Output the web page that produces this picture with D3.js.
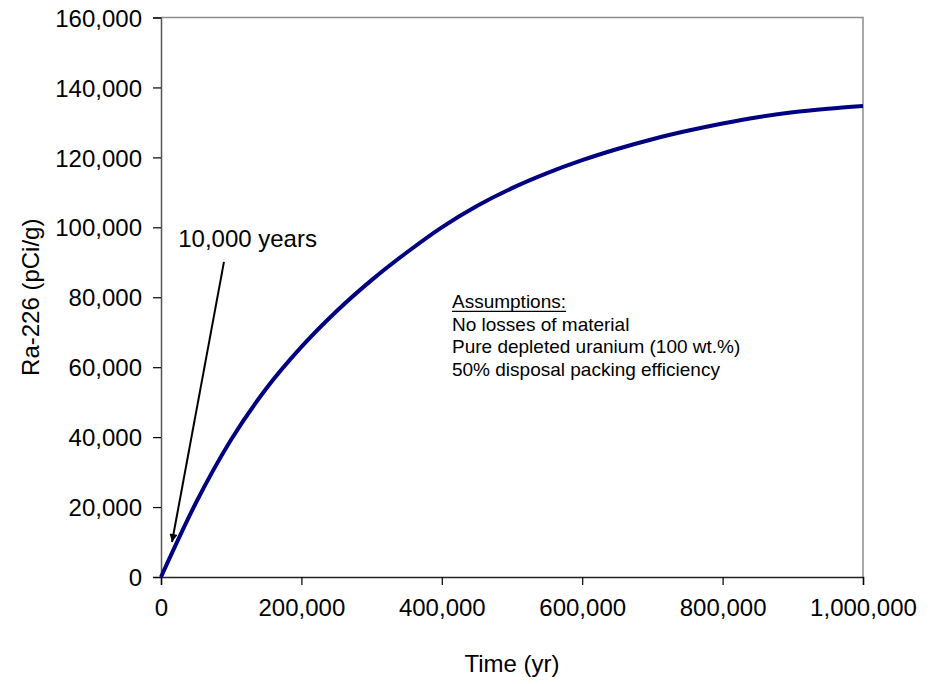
<!DOCTYPE html>
<html>
<head>
<meta charset="utf-8">
<script src="https://cdn.jsdelivr.net/npm/d3@7"></script>
<style>
  body { margin: 0; background: #fff; }
  svg text { font-family: "Liberation Sans", Arial, sans-serif; fill: #000; }
</style>
</head>
<body>
<svg id="chart" width="938" height="684"></svg>
<script>
// time in years, Ra-226 in pCi/g
const years = [0, 50000, 100000, 150000, 200000, 250000, 300000, 350000, 400000, 450000,
  500000, 550000, 600000, 650000, 700000, 750000, 800000, 850000, 900000, 950000, 1000000];
const ra226 = [0, 21300, 39300, 53900, 65800, 76000, 84900, 92800, 100000, 106100,
  111200, 115500, 119200, 122400, 125200, 127600, 129700, 131500, 132900, 133900, 134700];
const xTicks = [0, 200000, 400000, 600000, 800000, 1000000];
const yTicks = [0, 20000, 40000, 60000, 80000, 100000, 120000, 140000, 160000];
const assumptions = ["Assumptions:", "No losses of material",
  "Pure depleted uranium (100 wt.%)", "50% disposal packing efficiency"];

const margin = {top: 17.5, right: 75, bottom: 107, left: 161};
const width = 938 - margin.left - margin.right;
const height = 684 - margin.top - margin.bottom;

const svg = d3.select("#chart");
const g = svg.append("g").attr("transform", `translate(${margin.left},${margin.top})`);

const x = d3.scaleLinear().domain([0, 1000000]).range([0, width]);
const y = d3.scaleLinear().domain([0, 160000]).range([height, 0]);
const fmt = d3.format(",");

// frame: top + right in gray
g.append("path")
  .attr("d", `M0,0H${width}V${height}`)
  .attr("fill", "none").attr("stroke", "#8c8c8c").attr("stroke-width", 1.5);

const yAxis = g.append("g")
  .call(d3.axisLeft(y).tickValues(yTicks).tickFormat(fmt).tickSizeOuter(0).tickSize(8).tickPadding(11));
yAxis.select(".domain").attr("stroke", "#555").attr("stroke-width", 1.5);
yAxis.selectAll("text").attr("font-size", 24).attr("dy", "0.36em");

const xAxis = g.append("g").attr("transform", `translate(0,${height})`)
  .call(d3.axisBottom(x).tickValues(xTicks).tickFormat(fmt).tickSizeOuter(0).tickSize(8).tickPadding(14));
xAxis.select(".domain").attr("stroke", "#222").attr("stroke-width", 1.5);
xAxis.selectAll("text").attr("font-size", 24);
svg.selectAll(".tick line").attr("stroke", "#000").attr("stroke-width", 1.2);
svg.selectAll(".domain").attr("fill", "none");
svg.selectAll(".tick text").attr("font-family", "Liberation Sans, Arial, sans-serif");

// curve
const line = d3.line()
  .x((d, i) => x(years[i]))
  .y(d => y(d))
  .curve(d3.curveMonotoneX);
g.append("path")
  .datum(ra226)
  .attr("d", line)
  .attr("fill", "none")
  .attr("stroke", "#000080")
  .attr("stroke-width", 4);

// axis titles
svg.append("text")
  .attr("x", margin.left + width / 2).attr("y", 672)
  .attr("text-anchor", "middle").attr("font-size", 24)
  .text("Time (yr)");
svg.append("text")
  .attr("transform", `translate(39,${margin.top + height / 2}) rotate(-90)`)
  .attr("text-anchor", "middle").attr("font-size", 24)
  .text("Ra-226 (pCi/g)");

// 10,000 years arrow
svg.append("defs").append("marker")
  .attr("id", "head").attr("viewBox", "0 0 10 10")
  .attr("refX", 10).attr("refY", 5)
  .attr("markerWidth", 5).attr("markerHeight", 4)
  .attr("markerUnits", "strokeWidth")
  .attr("orient", "auto")
  .append("path").attr("d", "M0,0L10,5L0,10Z").attr("fill", "#000");

g.append("line")
  .attr("x1", x(89700)).attr("y1", y(90100))
  .attr("x2", x(15700)).attr("y2", y(10000))
  .attr("stroke", "#000").attr("stroke-width", 2)
  .attr("marker-end", "url(#head)");

g.append("text")
  .attr("x", x(24500)).attr("y", y(94500))
  .attr("font-size", 24)
  .text("10,000 years");

// assumptions box
const note = g.append("g").attr("transform", `translate(${x(414500)},${y(76800)})`);
note.selectAll("text")
  .data(assumptions)
  .join("text")
  .attr("x", 0)
  .attr("y", (d, i) => i * 22.5)
  .attr("font-size", 19)
  .text(d => d);
const firstW = note.select("text").node().getComputedTextLength();
note.append("line")
  .attr("x1", 0).attr("x2", firstW)
  .attr("y1", 3).attr("y2", 3)
  .attr("stroke", "#000").attr("stroke-width", 1.3);
</script>
</body>
</html>
